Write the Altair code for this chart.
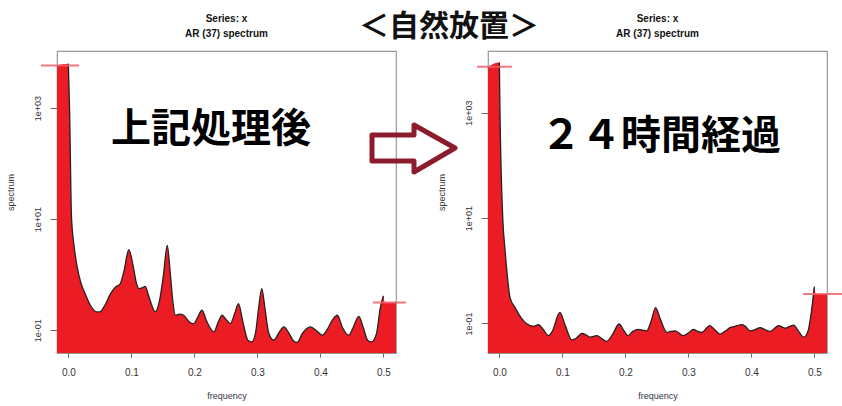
import altair as alt
import pandas as pd

# ---- data (log10 of the AR spectrum) ----
left_freq = [0.0, 0.002, 0.005, 0.009, 0.014, 0.02, 0.027, 0.035, 0.045, 0.05, 0.058, 0.067,
             0.075, 0.082, 0.088, 0.096, 0.103, 0.108, 0.112, 0.118, 0.122, 0.128, 0.138, 0.145,
             0.151, 0.157, 0.162, 0.166, 0.17, 0.177, 0.183, 0.192, 0.199, 0.206, 0.212, 0.22,
             0.231, 0.238, 0.244, 0.25, 0.257, 0.264, 0.27, 0.277, 0.285, 0.291, 0.297, 0.302,
             0.307, 0.312, 0.318, 0.326, 0.334, 0.342, 0.35, 0.358, 0.363, 0.372, 0.384, 0.395,
             0.403, 0.41, 0.42, 0.427, 0.435, 0.445, 0.452, 0.461, 0.468, 0.475, 0.481, 0.489,
             0.495, 0.5]
left_log_spec = [3.8, 2.96, 1.04, 0.53, 0.14, -0.15, -0.35, -0.55, -0.67, -0.67, -0.55, -0.34,
                 -0.22, -0.17, 0.05, 0.45, 0.15, -0.15, -0.25, -0.23, -0.21, -0.4, -0.67, -0.45,
                 0.0, 0.53, 0.0, -0.5, -0.73, -0.71, -0.73, -0.85, -0.88, -0.75, -0.64, -0.85,
                 -1.03, -0.85, -0.73, -0.8, -0.88, -0.7, -0.52, -0.85, -1.18, -1.21, -1.05, -0.6,
                 -0.25, -0.6, -1.05, -1.18, -1.05, -0.94, -1.05, -1.2, -1.22, -1.05, -0.94, -1.02,
                 -1.09, -1.0, -0.8, -0.73, -0.95, -1.09, -0.95, -0.75, -0.95, -1.18, -1.21, -1.06,
                 -0.6, -0.38]

right_freq = [0.0, 0.001, 0.0054, 0.009, 0.013, 0.017, 0.025, 0.035, 0.049, 0.056, 0.062, 0.07,
              0.078, 0.084, 0.096, 0.105, 0.115, 0.122, 0.131, 0.138, 0.144, 0.155, 0.162, 0.17,
              0.18, 0.19, 0.197, 0.204, 0.212, 0.221, 0.228, 0.234, 0.241, 0.248, 0.255, 0.266,
              0.272, 0.279, 0.292, 0.3, 0.308, 0.315, 0.321, 0.334, 0.342, 0.35, 0.358, 0.366,
              0.375, 0.385, 0.39, 0.398, 0.405, 0.414, 0.422, 0.43, 0.443, 0.454, 0.46, 0.467,
              0.475, 0.483, 0.49, 0.495, 0.5]
right_log_spec = [3.95, 3.03, 1.01, 0.4, -0.13, -0.51, -0.7, -0.9, -1.04, -1.05, -1.02, -1.12,
                  -1.23, -1.15, -0.79, -1.05, -1.31, -1.28, -1.19, -1.22, -1.26, -1.23, -1.28, -1.34,
                  -1.2, -1.01, -1.12, -1.23, -1.15, -1.11, -1.13, -1.14, -0.95, -0.7, -0.9, -1.17,
                  -1.15, -1.14, -1.23, -1.18, -1.11, -1.15, -1.17, -1.04, -1.12, -1.2, -1.15, -1.08,
                  -1.05, -1.02, -1.05, -1.14, -1.12, -1.08, -1.12, -1.15, -1.04, -1.09, -1.06, -1.03,
                  -1.15, -1.26, -1.14, -0.8, -0.3]

# filled region edges (the red fill runs to the frame on both sides)
left_edges = {"lo_freq": -0.018, "lo_log": 3.77, "hi_freq": [0.502, 0.52], "hi_log": -0.5}
right_edges = {"lo_freq": -0.018, "lo_log": 3.87, "hi_freq": [0.502, 0.52], "hi_log": -0.44}

# red marker lines (log10 values)
left_marks = [3.77, -0.5]
right_marks = [3.87, -0.44]

# y-axis ranges (log10)
left_ylog = [-1.41, 4.03]
right_ylog = [-1.56, 4.17]

x_ticks = [0.0, 0.1, 0.2, 0.3, 0.4, 0.5]
y_ticks = [0.1, 10, 1000]
y_tick_labels = ["1e-01", "1e+01", "1e+03"]

main_title = "＜自然放置＞"
panel_title = ["Series: x", "AR (37) spectrum"]
left_note = "上記処理後"
right_note = "２４時間経過"

W, H = 339, 302
RED = "#EC1C24"
FONT = "Liberation Sans"
CJK = "Noto Sans CJK JP"

label_expr = " : ".join(
    [f"datum.value < {v * 3} ? '{t}'" for v, t in zip(y_ticks[:-1], y_tick_labels[:-1])]
    + [f"'{y_tick_labels[-1]}'"]
)


def panel(freq, logs, edges, marks, ylog, note, note_xy, rule_px, extra=()):
    line_df = pd.DataFrame({"f": freq, "s": [10 ** v for v in logs]})
    area_f = [edges["lo_freq"]] + freq + edges["hi_freq"]
    area_l = [edges["lo_log"]] + logs + [edges["hi_log"]] * len(edges["hi_freq"])
    area_df = pd.DataFrame({"f": area_f, "s": [10 ** v for v in area_l]})

    xs = alt.Scale(domain=[-0.018, 0.52], nice=False, zero=False)
    ys = alt.Scale(type="log", domain=[10 ** ylog[0], 10 ** ylog[1]], nice=False)

    xaxis = alt.Axis(values=x_ticks, format=".1f", grid=False, domain=False,
                     tickSize=4, tickColor="#666", labelFontSize=10, labelColor="#333",
                     labelPadding=10, title="frequency", titleFontSize=9,
                     titleFontWeight="normal", titleColor="#334",
                     titleX=W / 2, titleY=42, titleBaseline="middle")
    yaxis = alt.Axis(values=y_ticks, labelExpr=label_expr, grid=False, domain=False,
                     tickSize=7, tickColor="#666", labelFontSize=9, labelColor="#333",
                     labelAngle=270, labelAlign="center", labelBaseline="bottom",
                     labelPadding=8, title="spectrum", titleFontSize=9,
                     titleFontWeight="normal", titleColor="#333",
                     titleAngle=270, titleX=-47, titleY=H / 2 - 10,
                     titleBaseline="middle", titleAlign="center")

    area = alt.Chart(area_df).mark_area(color=RED, fill=RED, opacity=1,
                                        interpolate="monotone").encode(
        x=alt.X("f:Q", scale=xs, axis=xaxis),
        y=alt.Y("s:Q", scale=ys, axis=yaxis),
        y2=alt.datum(10 ** ylog[0]),
    )
    line = alt.Chart(line_df).mark_line(color="#222", strokeWidth=1.3,
                                        interpolate="monotone").encode(
        x=alt.X("f:Q", scale=xs), y=alt.Y("s:Q", scale=ys))

    rules = []
    for val, (a, b) in zip(marks, rule_px):
        rules.append(
            alt.Chart(pd.DataFrame({"s": [10 ** val]})).mark_rule(
                color="#F0606C", strokeWidth=2, opacity=0.85).encode(
                y=alt.Y("s:Q", scale=ys), x=alt.value(a), x2=alt.value(b))
        )

    note_txt = alt.Chart(pd.DataFrame({"t": [note]})).mark_text(
        font=CJK, fontSize=40, fontWeight="bold", color="#000",
        align="center", baseline="middle").encode(
        text="t:N", x=alt.value(note_xy[0]), y=alt.value(note_xy[1]))

    titles = []
    for i, line_txt in enumerate(panel_title):
        titles.append(
            alt.Chart(pd.DataFrame({"t": [line_txt]})).mark_text(
                font=FONT, fontSize=10, fontWeight="bold", color="#111",
                align="center", baseline="middle").encode(
                text="t:N", x=alt.value(W / 2), y=alt.value(-32 + 15 * i))
        )

    return alt.layer(area, line, *rules, note_txt, *titles, *extra).properties(
        width=W, height=H)


# arrow between panels and the overall heading, placed relative to the left panel
arrow_path = "M -42 -13 L 0 -13 L 0 -23 L 41 0 L 0 24 L 0 13 L -42 13 Z"
arrow = alt.Chart(pd.DataFrame({"a": [1]})).mark_point(
    shape=arrow_path, size=4, stroke="#8C1C2C", strokeWidth=5, strokeJoin="round",
    opacity=1).encode(x=alt.value(357), y=alt.value(97))
heading = alt.Chart(pd.DataFrame({"t": [main_title]})).mark_text(
    font=CJK, fontSize=30, fontWeight="bold", color="#111",
    align="center", baseline="middle").encode(
    text="t:N", x=alt.value(392), y=alt.value(-24))

left = panel(left_freq, left_log_spec, left_edges, left_marks, left_ylog,
             left_note, (154, 79), [(-16, 22), (316, 349)], extra=(arrow, heading))
right = panel(right_freq, right_log_spec, right_edges, right_marks, right_ylog,
              right_note, (173, 86), [(-11, 24), (315, 354)])

chart = alt.hconcat(left, right, spacing=92, bounds="flush").configure(
    autosize=alt.AutoSizeParams(type="none"),
    padding={"left": 57, "top": 51, "right": 785, "bottom": 355},
    font=FONT,
).configure_view(stroke="#999", strokeWidth=1.2)

chart.save("out.html", embed_options={"renderer": "svg", "actions": False})
